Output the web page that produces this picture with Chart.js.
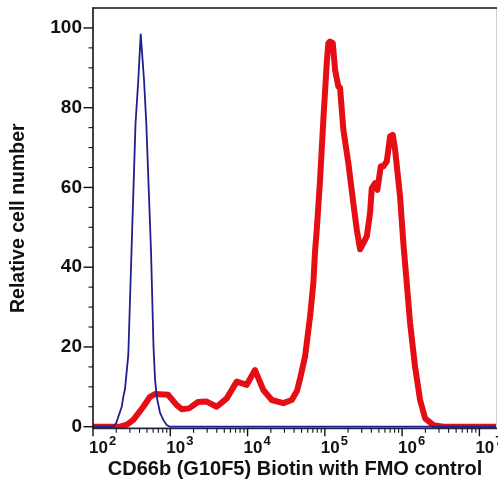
<!DOCTYPE html>
<html><head><meta charset="utf-8">
<script src="https://cdn.jsdelivr.net/npm/chart.js@4.4.1/dist/chart.umd.min.js"></script>
<style>html,body{margin:0;padding:0;background:#fff;} #wrap{width:498px;height:495px;position:relative;}</style>
</head><body><div id="wrap"><canvas id="c"></canvas></div>
<script>
// FMO control (blue) histogram
const fmoX = [100, 181.5, 198.5, 212.6, 235.3, 246.7, 259.6, 286.3, 315.0, 354.9, 385.9, 414.5, 457.2, 489.6, 563.4, 606.9, 634.6, 667.5, 736.4, 812.6, 899.4, 992, 16900000];
const fmoY = [0, 0, 0.8, 2.5, 5, 7.5, 9.5, 18, 44, 76, 87, 98.5, 87, 76, 44, 20, 12, 7.5, 3.5, 1.7, 0.4, 0, 0];
// CD66b (G10F5) Biotin (red) histogram
const cd66bX = [100, 223.7, 275.5, 332.4, 447.7, 546.9, 634.6, 934.9, 1211.7, 1406.5, 1748, 2286, 2962, 3991, 5377, 7244, 9759, 12497, 16005, 20560, 29050, 37320, 43700, 47790, 55460, 64400, 71030, 74700, 78620, 86730, 95680, 105880, 111060, 116840, 126620, 135600, 149620, 157390, 173620, 201560, 233960, 259000, 285740, 348810, 384900, 404890, 446680, 478500, 529480, 572150, 633240, 698680, 757000, 810900, 941000, 1038300, 1149000, 1268000, 1471500, 1708200, 1982400, 2538500, 3420000, 16900000];
const cd66bY = [0, 0, 0.5, 1.7, 5, 7.5, 8.2, 8, 5.4, 4.4, 4.6, 6.2, 6.3, 5, 7.1, 11.3, 10.5, 14.2, 9.2, 6.7, 5.9, 6.7, 9, 12, 17.6, 27.6, 36, 44, 49.4, 61.9, 77, 91.2, 96.2, 96.6, 96.2, 89.5, 85.3, 85, 74.5, 66.1, 56, 49.4, 44.5, 47.7, 53.6, 59.8, 61.1, 59.4, 65.3, 65.3, 66.5, 72.8, 73.2, 69.5, 57.7, 46, 36, 26, 15, 6.7, 2.1, 0.4, 0, 0];

const xTickExponents = [2, 3, 4, 5, 6, 7];
const xMinorMultipliers = [2, 3, 4, 5, 6, 7, 8, 9];
const yTickValues = [0, 20, 40, 60, 80, 100];
const yMinorTickValues = [5, 10, 15, 25, 30, 35, 45, 50, 55, 65, 70, 75, 85, 90, 95];
const xTitle = 'CD66b (G10F5) Biotin with FMO control';
const yTitle = 'Relative cell number';

const FONT = '"Liberation Sans", Arial, Helvetica, sans-serif';

const axesDecor = {
  id: 'axesDecor',
  afterDraw(chart) {
    const {ctx, chartArea: a, scales: {x, y}} = chart;
    ctx.save();
    const line = (x1, y1, x2, y2) => { ctx.beginPath(); ctx.moveTo(x1, y1); ctx.lineTo(x2, y2); ctx.stroke(); };
    // right border (faint)
    ctx.strokeStyle = '#d0d0d0'; ctx.lineWidth = 1;
    line(a.right - 0.5, a.top, a.right - 0.5, a.bottom);
    // top border
    ctx.strokeStyle = '#111'; ctx.lineWidth = 1.6;
    line(a.left, a.top, a.right, a.top);
    // left axis
    line(a.left, a.top - 0.8, a.left, a.bottom + 0.8);
    // y ticks
    ctx.lineWidth = 1.4;
    yTickValues.forEach(v => { const p = y.getPixelForValue(v); line(a.left - 9.5, p, a.left, p); });
    ctx.lineWidth = 1.1;
    yMinorTickValues.forEach(v => { const p = y.getPixelForValue(v); line(a.left - 4.5, p, a.left, p); });
    // bottom axis
    ctx.strokeStyle = '#23234f'; ctx.lineWidth = 1.8;
    line(a.left, a.bottom, a.right, a.bottom);
    ctx.strokeStyle = '#111';
    // x ticks
    xTickExponents.forEach(e => {
      const base = Math.pow(10, e);
      ctx.lineWidth = 1.4;
      const p = x.getPixelForValue(base);
      if (p <= a.right + 0.5) line(p, a.bottom, p, a.bottom + 8);
      ctx.lineWidth = 1.1;
      xMinorMultipliers.forEach(k => {
        const v = k * base;
        if (v <= x.max) { const q = x.getPixelForValue(v); line(q, a.bottom, q, a.bottom + 4.5); }
      });
    });
    // x tick labels 10^n
    ctx.fillStyle = '#111';
    ctx.textBaseline = 'alphabetic';
    ctx.textAlign = 'left';
    xTickExponents.forEach(e => {
      const p = x.getPixelForValue(Math.pow(10, e));
      ctx.font = 'bold 17px ' + FONT;
      const w1 = ctx.measureText('10').width;
      const start = p - 4;
      ctx.fillText('10', start, a.bottom + 25);
      ctx.font = 'bold 13px ' + FONT;
      ctx.fillText(String(e), start + w1 + 1, a.bottom + 17);
    });
    ctx.restore();
  }
};

new Chart(document.getElementById('c'), {
  type: 'line',
  data: {
    datasets: [
      { label: 'FMO control', data: fmoX.map((v, i) => ({x: v, y: fmoY[i]})),
        borderColor: '#1f1f8e', borderWidth: 1.8, pointRadius: 0, tension: 0, fill: false },
      { label: 'CD66b (G10F5) Biotin', data: cd66bX.map((v, i) => ({x: v, y: cd66bY[i]})),
        borderColor: 'rgb(228,14,20)', borderWidth: 6, pointRadius: 0, tension: 0, fill: false,
        borderJoinStyle: 'round', borderCapStyle: 'round' }
    ]
  },
  options: {
    responsive: true, maintainAspectRatio: false, animation: false,
    layout: { padding: { top: 8, right: 1, left: 0, bottom: 0 } },
    plugins: { legend: { display: false }, tooltip: { enabled: false } },
    scales: {
      x: {
        type: 'logarithmic', min: 100, max: 16900000,
        grid: { display: false, drawTicks: false }, border: { display: false },
        ticks: { display: false },
        title: { display: true, text: xTitle, color: '#111',
          font: { family: FONT, size: 20, weight: 'bold' }, padding: { top: 0, bottom: 14 } },
        afterFit: s => { s.height = 66.7; s.paddingLeft = 0; s.paddingRight = 0; }
      },
      y: {
        min: -0.4, max: 105,
        afterBuildTicks: s => { s.ticks = yTickValues.map(v => ({value: v})); },
        grid: { display: false, drawTicks: false }, border: { display: false },
        ticks: { color: '#111', padding: 11, font: { family: FONT, size: 19, weight: 'bold' } },
        title: { display: true, text: yTitle, color: '#111',
          font: { family: FONT, size: 19.5, weight: 'bold' }, padding: { top: 6.5, bottom: 0 } },
        afterFit: s => { s.width = 93; s.paddingTop = 0; s.paddingBottom = 0; }
      }
    }
  },
  plugins: [axesDecor]
});
</script>
</body></html>
